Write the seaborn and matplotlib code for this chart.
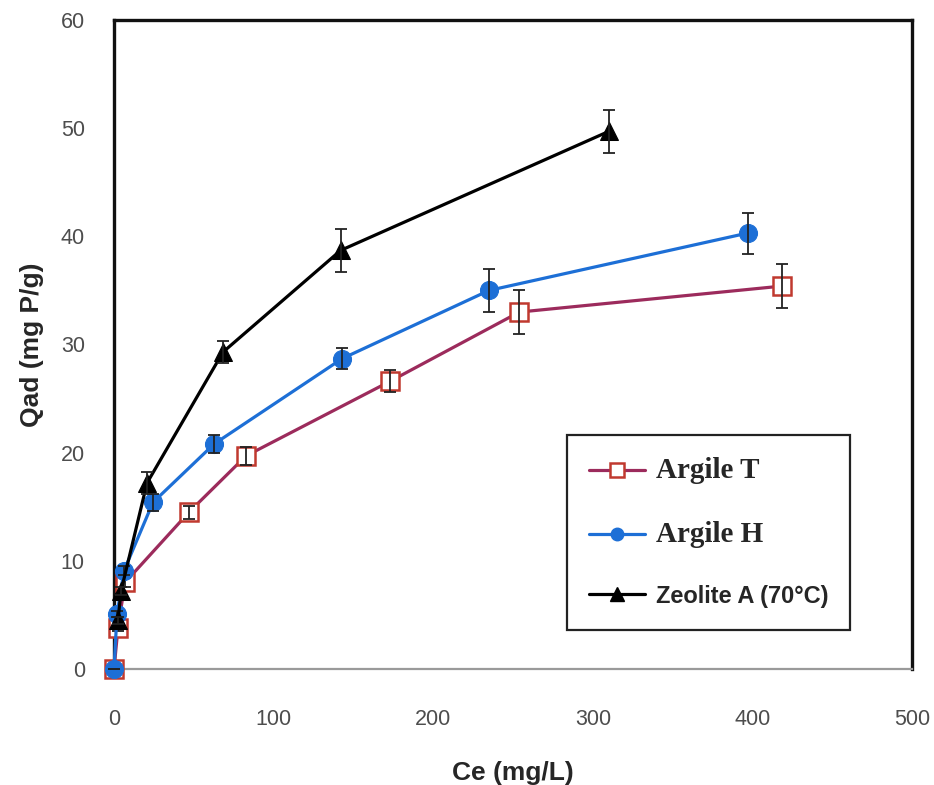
import matplotlib
matplotlib.use("Agg")
import matplotlib.pyplot as plt
from matplotlib.lines import Line2D
import seaborn as sns

# Phosphate adsorption isotherms: equilibrium concentration vs. adsorbed amount
t_ce = [0, 2.5, 6.9, 47, 82.7, 173, 254, 418.5]
t_qad = [0, 3.8, 8.0, 14.5, 19.7, 26.6, 33.0, 35.4]
t_err = [0, 0.3, 0.4, 0.6, 0.8, 1.0, 2.0, 2.0]

h_ce = [0, 1.9, 6.3, 24.4, 62.7, 143, 235, 397]
h_qad = [0, 5.1, 9.1, 15.4, 20.8, 28.7, 35.0, 40.3]
h_err = [0, 0.3, 0.4, 0.8, 0.8, 1.0, 2.0, 1.9]

z_ce = [2.5, 4.4, 20.7, 68.3, 142, 310]
z_qad = [4.5, 7.2, 17.2, 29.3, 38.7, 49.7]
z_err = [0.3, 0.4, 1.0, 1.0, 2.0, 2.0]

labels = ["Argile T", "Argile H", "Zeolite A (70°C)"]
x_ticks = [0, 100, 200, 300, 400, 500]
y_ticks = [0, 10, 20, 30, 40, 50, 60]

sns.set_style("white")
sans = ["Liberation Sans", "DejaVu Sans"]

fig = plt.figure(figsize=(9.34, 7.85), dpi=100)
ax = fig.add_axes([114 / 934, 1 - 669 / 785, (912 - 114) / 934, (669 - 20) / 785])

T_LINE, T_EDGE = "#9C2B5C", "#C0392F"
H_COL = "#1D6FD6"
Z_COL = "#000000"
ERR_COL = "#222222"

series = [
    (t_ce, t_qad, t_err, dict(color=T_LINE, marker="s", markersize=12.5,
                              markerfacecolor="white", markeredgecolor=T_EDGE,
                              markeredgewidth=1.8)),
    (h_ce, h_qad, h_err, dict(color=H_COL, marker="o", markersize=13,
                              markerfacecolor=H_COL, markeredgecolor=H_COL)),
    (z_ce, z_qad, z_err, dict(color=Z_COL, marker="^", markersize=13,
                              markerfacecolor=Z_COL, markeredgecolor=Z_COL)),
]

for i, (xs, ys, es, style) in enumerate(series):
    sns.lineplot(x=xs, y=ys, ax=ax, sort=False, estimator=None, legend=False,
                 linewidth=2.3, zorder=3 + i, clip_on=False, **style)
    ax.errorbar(xs, ys, yerr=es, fmt="none", ecolor=ERR_COL, elinewidth=1.3,
                capsize=4.5, capthick=1.3, zorder=3 + i + 0.5, clip_on=False)

ax.set_xlim(0, 500)
ax.set_ylim(0, 60)
ax.set_xticks(x_ticks)
ax.set_yticks(y_ticks)
ax.tick_params(axis="both", direction="out", length=7, width=1.2,
               color="#8c8c8c", labelcolor="#4d4d4d", labelsize=15.5, pad=14)
ax.tick_params(axis="x", pad=22)
for lbl in ax.get_xticklabels() + ax.get_yticklabels():
    lbl.set_family(sans)

for side in ["left", "top", "right"]:
    ax.spines[side].set_color("#111111")
    ax.spines[side].set_linewidth(2.4)
ax.spines["bottom"].set_color("#9a9a9a")
ax.spines["bottom"].set_linewidth(1.6)

ax.set_xlabel("Ce (mg/L)", fontsize=19, fontweight="bold", family=sans,
              color="#262626", labelpad=22)
ax.set_ylabel("Qad (mg P/g)", fontsize=19, fontweight="bold", family=sans,
              color="#262626", labelpad=12)

handles = [
    Line2D([], [], **{**series[0][3], "linewidth": 2.3, "markersize": 10}),
    Line2D([], [], **{**series[1][3], "linewidth": 2.3, "markersize": 9}),
    Line2D([], [], **{**series[2][3], "linewidth": 2.3, "markersize": 10}),
]
leg = ax.legend(handles, labels, loc="upper left",
                bbox_to_anchor=((567 - 114) / 798, (669 - 435) / 649),
                borderaxespad=0, frameon=True, fancybox=False, framealpha=1,
                edgecolor="#222222", fontsize=17, handlelength=2.35,
                handletextpad=0.45, labelspacing=1.55, borderpad=0.95)
leg.get_frame().set_linewidth(1.6)
for k, txt in enumerate(leg.get_texts()):
    if k < 2:
        txt.set_family(["Liberation Serif", "DejaVu Serif"])
        txt.set_fontsize(21)
        txt.set_fontweight("bold")
    else:
        txt.set_family(sans)
        txt.set_fontsize(17)
        txt.set_fontweight("bold")

fig.savefig("out.png", dpi=100)
